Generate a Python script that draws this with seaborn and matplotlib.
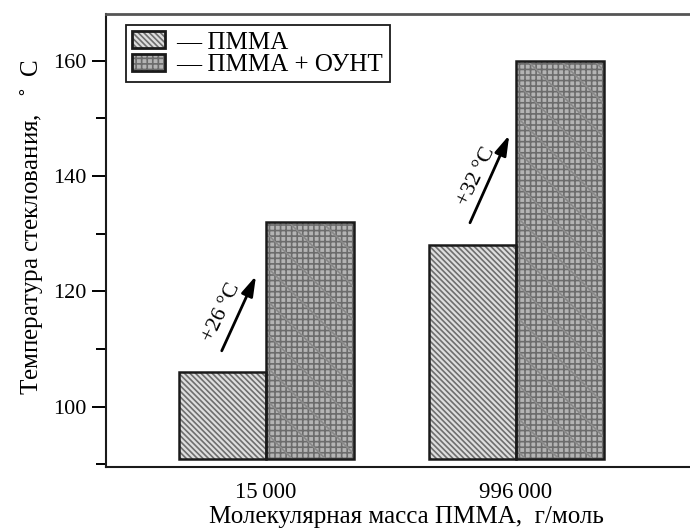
import numpy as np
import pandas as pd
import seaborn as sns
import matplotlib.pyplot as plt
from matplotlib.patches import Patch, Rectangle
from matplotlib.legend_handler import HandlerTuple
from matplotlib.ticker import MultipleLocator

# Molecular masses of PMMA (x categories)
masses = ["15\u2009000", "996\u2009000"]
series = ["ПММА", "ПММА + ОУНТ"]
# Glass transition temperatures, °C
tg_pmma = [106, 128]
tg_composite = [132, 160]
base = 91  # lower edge of the bars

df = pd.DataFrame({
    "mass": masses * 2,
    "series": [series[0]] * len(masses) + [series[1]] * len(masses),
    "tg": tg_pmma + tg_composite,
})
df["height"] = df["tg"] - base

sns.set_theme(style="white")
plt.rcParams["font.family"] = ["Liberation Serif", "DejaVu Serif"]
plt.rcParams["hatch.linewidth"] = 1.2
plt.rcParams["text.color"] = "black"
plt.rcParams["axes.labelcolor"] = "black"
plt.rcParams["xtick.color"] = "black"
plt.rcParams["ytick.color"] = "black"

fig = plt.figure(figsize=(6.9, 5.29), dpi=100)
ax = fig.add_axes([106 / 690, 62 / 529, 600 / 690, 452.7 / 529])

sns.barplot(data=df, x="mass", y="height", hue="series", order=masses,
            hue_order=series, width=0.7, gap=0, bottom=base,
            palette=["#d9d9d9", "#b3b3b3"], saturation=1, linewidth=0,
            legend=False, ax=ax)

styles = [
    dict(face="#dedede", hatch="\\" * 6, hcolor="#6e6e6e", extra=None),
    dict(face="#b4b4b4", hatch="+++", hcolor="#6c6c6c", extra="\\"),
]
for container, st in zip(ax.containers, styles):
    for bar in container:
        bar.set_facecolor(st["face"])
        bar.set_hatch(st["hatch"])
        bar.set_edgecolor(st["hcolor"])
        bar.set_linewidth(0)
        if st["extra"]:
            ax.add_patch(Rectangle(bar.get_xy(), bar.get_width(), bar.get_height(),
                                   fill=False, hatch=st["extra"], edgecolor="#8a8a8a",
                                   linewidth=0, zorder=bar.get_zorder() + 0.1))
        ax.add_patch(Rectangle(bar.get_xy(), bar.get_width(), bar.get_height(),
                               fill=False, edgecolor="#1a1a1a", linewidth=1.8,
                               zorder=bar.get_zorder() + 0.2))

# Arrows showing the increase of Tg
increments = [c - p for p, c in zip(tg_pmma, tg_composite)]
arrows = [((-0.177, 109.7), (-0.04, 122.7), (-0.178, 116.3)),
          ((0.816, 131.9), (0.973, 147.1), (0.842, 139.9))]
for (tail, head, tpos), inc in zip(arrows, increments):
    ax.annotate("", xy=head, xytext=tail,
                arrowprops=dict(arrowstyle="-|>,head_length=1.0,head_width=0.3",
                                color="black", lw=2, shrinkA=0, shrinkB=0))
    ax.text(tpos[0], tpos[1], f"+{inc}\u2009°C", rotation=64, fontsize=16,
            ha="center", va="center", rotation_mode="anchor")

ax.set_xlim(-0.64, 1.76)
ax.set_ylim(89.55, 168.05)
ax.yaxis.set_major_locator(MultipleLocator(20))
ax.yaxis.set_minor_locator(MultipleLocator(10))
ax.tick_params(axis="y", which="major", length=10, width=1.4, direction="out",
               labelsize=16, pad=4, left=True)
ax.tick_params(axis="y", which="minor", length=7.5, width=1.4, direction="out", left=True)
ax.tick_params(axis="x", length=0, labelsize=16.5, pad=11)

ax.set_xlabel("Молекулярная масса ПММА,  г/моль", fontsize=18, labelpad=2)
ax.set_ylabel("Температура стеклования,  $^\\circ$ C", fontsize=18)
ax.yaxis.set_label_coords(-0.1, 0.53)

for side in ["left", "bottom"]:
    ax.spines[side].set_color("#1a1a1a")
    ax.spines[side].set_linewidth(1.5)
ax.spines["top"].set_color("#555555")
ax.spines["top"].set_linewidth(2)
ax.spines["right"].set_visible(False)

outline = Patch(facecolor="none", edgecolor="#1a1a1a", linewidth=2)
h1 = Patch(facecolor=styles[0]["face"], hatch=styles[0]["hatch"],
           edgecolor=styles[0]["hcolor"], linewidth=0)
h2 = Patch(facecolor=styles[1]["face"], hatch=styles[1]["hatch"],
           edgecolor=styles[1]["hcolor"], linewidth=0)
leg = fig.legend(handles=[(h1, outline), (h2, outline)],
                 labels=["— " + s for s in series],
                 handler_map={tuple: HandlerTuple(ndivide=1)},
                 loc="upper left", bbox_to_anchor=(126 / 690, 1 - 25 / 529),
                 borderaxespad=0, fontsize=18, frameon=True, fancybox=False,
                 edgecolor="#1a1a1a", framealpha=1, handlelength=1.32,
                 handleheight=0.68, handletextpad=0.45, labelspacing=0.0,
                 borderpad=0.25)
leg.get_frame().set_linewidth(1.3)

fig.savefig("out.png", dpi=100)
